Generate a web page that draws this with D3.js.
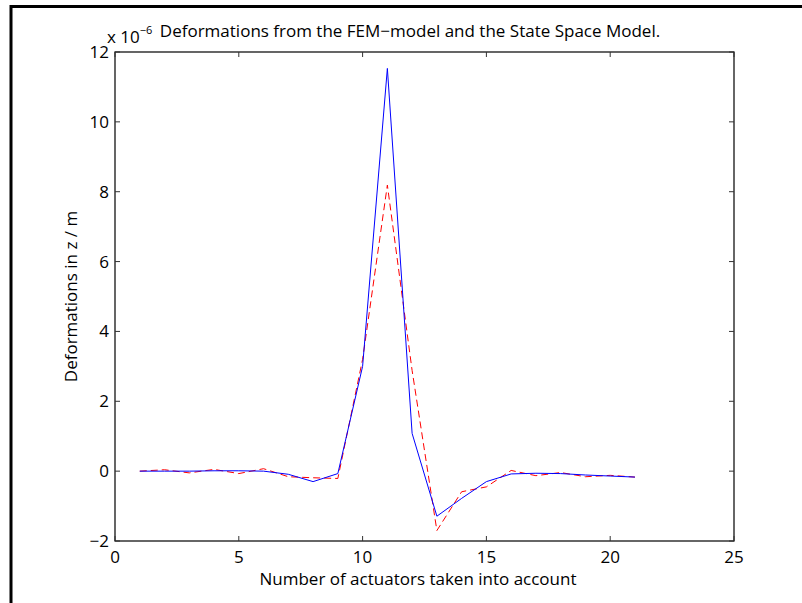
<!DOCTYPE html>
<html><head><meta charset="utf-8">
<script src="https://cdn.jsdelivr.net/npm/d3@7"></script>
<style>body{margin:0;background:#fff}svg{display:block}text{font-family:"Open Sans",sans-serif;fill:#000}</style>
</head><body>
<script>
const xs = [1,2,3,4,5,6,7,8,9,10,11,12,13,14,15,16,17,18,19,20,21];
const stateSpace = [0,0,0,0.01,0.01,0,-0.09,-0.3,-0.07,3.0,11.53,1.08,-1.29,-0.78,-0.3,-0.08,-0.06,-0.07,-0.11,-0.14,-0.17];
const fem = [0,0.04,-0.05,0.05,-0.07,0.07,-0.16,-0.19,-0.21,3.2,8.19,2.88,-1.7,-0.59,-0.45,0.02,-0.13,-0.04,-0.16,-0.12,-0.17];
const xTicks = [0,5,10,15,20,25];
const yTicks = [-2,0,2,4,6,8,10,12];
const titleText = "Deformations from the FEM\u2212model and the State Space Model.";
const xLabel = "Number of actuators taken into account";
const yLabel = "Deformations in z / m";

const W=802,H=603;
const L=115,R=734,T=52,B=541;
const svg=d3.select("body").append("svg").attr("width",W).attr("height",H);
svg.append("path").attr("d",`M11,603V6.5H802`).attr("fill","none").attr("stroke","#000").attr("stroke-width",3);

const x=d3.scaleLinear().domain([0,25]).range([L,R]);
const y=d3.scaleLinear().domain([-2,12]).range([B,T]);
const fmt=d=>d<0?"\u2212"+Math.abs(d):String(d);
const FS=17;

const g=svg.append("g");
g.append("rect").attr("x",L).attr("y",T).attr("width",R-L).attr("height",B-T).attr("fill","none").attr("stroke","#000").attr("stroke-width",1.2);
const tl=5;
xTicks.forEach(t=>{
  g.append("line").attr("x1",x(t)).attr("x2",x(t)).attr("y1",B).attr("y2",B-tl).attr("stroke","#333");
  g.append("line").attr("x1",x(t)).attr("x2",x(t)).attr("y1",T).attr("y2",T+tl).attr("stroke","#333");
  g.append("text").attr("x",x(t)).attr("y",B+22).attr("text-anchor","middle").attr("font-size",FS).text(fmt(t));
});
yTicks.forEach(t=>{
  g.append("line").attr("y1",y(t)).attr("y2",y(t)).attr("x1",L).attr("x2",L+tl).attr("stroke","#333");
  g.append("line").attr("y1",y(t)).attr("y2",y(t)).attr("x1",R).attr("x2",R-tl).attr("stroke","#333");
  g.append("text").attr("x",L-6).attr("y",y(t)+6).attr("text-anchor","end").attr("font-size",FS).text(fmt(t));
});
const line=d3.line().x((d,i)=>x(xs[i])).y(d=>y(d));
g.append("path").datum(fem).attr("d",line).attr("fill","none").attr("stroke","#ff0000").attr("stroke-width",1).attr("stroke-dasharray","7,4");
g.append("path").datum(stateSpace).attr("d",line).attr("fill","none").attr("stroke","#0000ff").attr("stroke-width",1);

const ex=svg.append("text").attr("x",107).attr("y",43).attr("font-size",FS);
ex.append("tspan").text("x 10");
ex.append("tspan").attr("dy",-9).attr("font-size",11).text("\u22126");
svg.append("text").attr("x",410).attr("y",37).attr("text-anchor","middle").attr("font-size",FS).text(titleText);
svg.append("text").attr("x",418).attr("y",585).attr("text-anchor","middle").attr("font-size",FS).text(xLabel);
svg.append("text").attr("transform",`translate(77,${(T+B)/2}) rotate(-90)`).attr("text-anchor","middle").attr("font-size",FS).text(yLabel);
</script>
</body></html>
